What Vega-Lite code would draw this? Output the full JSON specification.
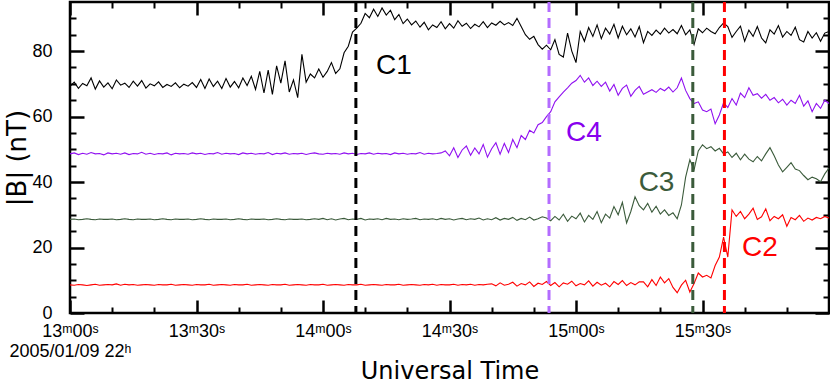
{
"$schema": "https://vega.github.io/schema/vega-lite/v6.json",
"width": 759, "height": 311,
"autosize": {"type": "none"},
"padding": {"left": 70, "top": 2, "right": 1, "bottom": 66},
"background": "white",
"config": {
 "view": {"stroke": "#000", "strokeWidth": 2.5},
 "axis": {"grid": false, "domain": false, "labelFont": "Liberation Sans, DejaVu Sans", "titleFont": "DejaVu Sans", "labelColor": "#000", "titleColor": "#000", "tickColor": "#000", "labelFontSize": 18, "titleFontWeight": "normal"}
},
"data": {"values": [
{"t":0,"c1":69.2,"c2":8.6,"c3":28.6,"c4":48.6},
{"t":1,"c1":70.5,"c2":8.5,"c3":28.7,"c4":48.9},
{"t":2,"c1":68.6,"c2":8.7,"c3":28.5,"c4":48.4},
{"t":3,"c1":70.1,"c2":8.6,"c3":28.6,"c4":48.8},
{"t":4,"c1":69.4,"c2":8.4,"c3":28.8,"c4":48.5},
{"t":5,"c1":71.8,"c2":8.6,"c3":28.6,"c4":49.0},
{"t":6,"c1":68.4,"c2":8.8,"c3":28.5,"c4":48.6},
{"t":7,"c1":70.9,"c2":8.5,"c3":28.7,"c4":48.7},
{"t":8,"c1":69.0,"c2":8.6,"c3":28.6,"c4":48.3},
{"t":9,"c1":70.3,"c2":8.7,"c3":28.6,"c4":48.9},
{"t":10,"c1":68.5,"c2":8.6,"c3":28.7,"c4":48.6},
{"t":11,"c1":71.2,"c2":8.9,"c3":28.5,"c4":48.8},
{"t":12,"c1":69.6,"c2":8.5,"c3":28.6,"c4":48.5},
{"t":13,"c1":70.2,"c2":8.8,"c3":28.8,"c4":48.9},
{"t":14,"c1":68.9,"c2":8.6,"c3":28.6,"c4":48.4},
{"t":15,"c1":70.8,"c2":8.7,"c3":28.5,"c4":48.7},
{"t":16,"c1":69.3,"c2":8.5,"c3":28.7,"c4":48.6},
{"t":17,"c1":71.0,"c2":8.6,"c3":28.6,"c4":49.1},
{"t":18,"c1":68.7,"c2":8.7,"c3":28.6,"c4":48.5},
{"t":19,"c1":70.0,"c2":8.6,"c3":28.7,"c4":48.8},
{"t":20,"c1":69.4,"c2":8.5,"c3":28.5,"c4":48.4},
{"t":21,"c1":70.6,"c2":8.7,"c3":28.6,"c4":48.7},
{"t":22,"c1":68.9,"c2":8.6,"c3":28.8,"c4":48.6},
{"t":23,"c1":69.8,"c2":8.6,"c3":28.6,"c4":48.9},
{"t":24,"c1":69.2,"c2":8.8,"c3":28.5,"c4":48.3},
{"t":25,"c1":70.3,"c2":8.5,"c3":28.7,"c4":48.8},
{"t":26,"c1":68.8,"c2":8.6,"c3":28.6,"c4":48.6},
{"t":27,"c1":69.9,"c2":8.7,"c3":28.6,"c4":48.7},
{"t":28,"c1":69.3,"c2":8.6,"c3":28.7,"c4":48.5},
{"t":29,"c1":70.4,"c2":8.5,"c3":28.5,"c4":48.9},
{"t":30,"c1":68.9,"c2":8.7,"c3":28.6,"c4":48.6},
{"t":31,"c1":71.3,"c2":8.6,"c3":28.8,"c4":48.8},
{"t":32,"c1":68.6,"c2":8.6,"c3":28.6,"c4":48.4},
{"t":33,"c1":71.5,"c2":8.8,"c3":28.5,"c4":48.7},
{"t":34,"c1":69.2,"c2":8.5,"c3":28.7,"c4":48.6},
{"t":35,"c1":70.8,"c2":8.6,"c3":28.6,"c4":49.0},
{"t":36,"c1":68.6,"c2":8.7,"c3":28.6,"c4":48.5},
{"t":37,"c1":71.6,"c2":8.6,"c3":28.7,"c4":48.8},
{"t":38,"c1":69.0,"c2":8.5,"c3":28.5,"c4":48.6},
{"t":39,"c1":70.7,"c2":8.7,"c3":28.6,"c4":48.7},
{"t":40,"c1":68.8,"c2":8.6,"c3":28.8,"c4":48.4},
{"t":41,"c1":71.8,"c2":8.6,"c3":28.6,"c4":48.9},
{"t":42,"c1":69.5,"c2":8.8,"c3":28.5,"c4":48.6},
{"t":43,"c1":72.3,"c2":8.5,"c3":28.7,"c4":48.8},
{"t":44,"c1":68.3,"c2":8.6,"c3":28.6,"c4":48.5},
{"t":45,"c1":73.8,"c2":8.7,"c3":28.6,"c4":48.7},
{"t":46,"c1":67.2,"c2":8.6,"c3":28.7,"c4":48.6},
{"t":47,"c1":74.2,"c2":8.5,"c3":28.5,"c4":49.0},
{"t":48,"c1":66.8,"c2":8.7,"c3":28.6,"c4":48.4},
{"t":49,"c1":75.5,"c2":8.6,"c3":28.8,"c4":48.8},
{"t":50,"c1":70.2,"c2":8.6,"c3":28.6,"c4":48.6},
{"t":51,"c1":77.0,"c2":8.8,"c3":28.5,"c4":48.9},
{"t":52,"c1":67.5,"c2":8.5,"c3":28.7,"c4":48.5},
{"t":53,"c1":71.2,"c2":8.6,"c3":28.6,"c4":48.7},
{"t":54,"c1":65.8,"c2":8.7,"c3":28.6,"c4":48.6},
{"t":55,"c1":79.0,"c2":8.6,"c3":28.7,"c4":48.8},
{"t":56,"c1":70.5,"c2":8.5,"c3":28.5,"c4":48.4},
{"t":57,"c1":73.0,"c2":8.7,"c3":28.6,"c4":48.7},
{"t":58,"c1":71.8,"c2":8.6,"c3":28.8,"c4":48.9},
{"t":59,"c1":74.5,"c2":8.6,"c3":28.6,"c4":48.6},
{"t":60,"c1":72.0,"c2":8.8,"c3":28.9,"c4":48.5},
{"t":61,"c1":73.8,"c2":8.5,"c3":28.5,"c4":48.8},
{"t":62,"c1":76.5,"c2":8.6,"c3":28.8,"c4":48.6},
{"t":63,"c1":73.2,"c2":8.7,"c3":28.4,"c4":48.7},
{"t":64,"c1":74.6,"c2":8.6,"c3":28.7,"c4":48.5},
{"t":65,"c1":79.5,"c2":8.5,"c3":28.9,"c4":48.9},
{"t":66,"c1":81.5,"c2":8.7,"c3":28.5,"c4":48.6},
{"t":67,"c1":85.8,"c2":8.6,"c3":28.7,"c4":48.8},
{"t":68,"c1":87.0,"c2":8.6,"c3":28.6,"c4":48.4},
{"t":69,"c1":88.5,"c2":8.8,"c3":28.9,"c4":48.7},
{"t":70,"c1":91.5,"c2":8.5,"c3":28.4,"c4":48.6},
{"t":71,"c1":90.2,"c2":8.6,"c3":28.7,"c4":48.9},
{"t":72,"c1":92.8,"c2":8.7,"c3":28.6,"c4":48.5},
{"t":73,"c1":90.6,"c2":8.6,"c3":28.8,"c4":48.8},
{"t":74,"c1":93.2,"c2":8.5,"c3":28.5,"c4":48.6},
{"t":75,"c1":91.0,"c2":8.7,"c3":28.9,"c4":48.7},
{"t":76,"c1":92.5,"c2":8.6,"c3":28.6,"c4":48.4},
{"t":77,"c1":89.6,"c2":8.6,"c3":28.7,"c4":48.9},
{"t":78,"c1":91.2,"c2":8.8,"c3":28.5,"c4":48.6},
{"t":79,"c1":88.4,"c2":8.5,"c3":28.8,"c4":48.8},
{"t":80,"c1":89.8,"c2":8.6,"c3":28.6,"c4":48.5},
{"t":81,"c1":88.0,"c2":8.7,"c3":28.7,"c4":48.7},
{"t":82,"c1":89.2,"c2":8.6,"c3":28.9,"c4":48.6},
{"t":83,"c1":87.3,"c2":8.5,"c3":28.5,"c4":49.0},
{"t":84,"c1":88.8,"c2":8.7,"c3":28.7,"c4":48.5},
{"t":85,"c1":86.5,"c2":8.6,"c3":28.6,"c4":48.8},
{"t":86,"c1":88.0,"c2":8.8,"c3":28.8,"c4":48.6},
{"t":87,"c1":87.2,"c2":8.5,"c3":28.5,"c4":48.7},
{"t":88,"c1":89.0,"c2":8.7,"c3":28.9,"c4":48.9},
{"t":89,"c1":86.8,"c2":8.6,"c3":28.6,"c4":49.5},
{"t":90,"c1":88.4,"c2":8.6,"c3":28.8,"c4":48.0},
{"t":91,"c1":87.0,"c2":8.8,"c3":28.4,"c4":50.5},
{"t":92,"c1":89.3,"c2":8.5,"c3":28.7,"c4":47.5},
{"t":93,"c1":87.6,"c2":8.7,"c3":28.9,"c4":49.8},
{"t":94,"c1":88.5,"c2":8.6,"c3":28.5,"c4":51.0},
{"t":95,"c1":86.9,"c2":8.8,"c3":28.8,"c4":48.2},
{"t":96,"c1":88.2,"c2":8.5,"c3":28.6,"c4":50.4},
{"t":97,"c1":87.4,"c2":8.7,"c3":29.0,"c4":48.6},
{"t":98,"c1":89.0,"c2":8.6,"c3":28.4,"c4":51.5},
{"t":99,"c1":87.2,"c2":8.8,"c3":28.8,"c4":47.6},
{"t":100,"c1":88.6,"c2":8.9,"c3":28.5,"c4":50.2},
{"t":101,"c1":87.9,"c2":8.3,"c3":29.1,"c4":52.0},
{"t":102,"c1":89.1,"c2":9.2,"c3":28.4,"c4":48.5},
{"t":103,"c1":88.0,"c2":8.5,"c3":28.9,"c4":51.8},
{"t":104,"c1":88.7,"c2":8.8,"c3":28.6,"c4":49.0},
{"t":105,"c1":87.8,"c2":9.4,"c3":29.2,"c4":53.0},
{"t":106,"c1":90.0,"c2":8.2,"c3":28.3,"c4":50.5},
{"t":107,"c1":87.5,"c2":9.0,"c3":28.9,"c4":54.2},
{"t":108,"c1":85.0,"c2":8.6,"c3":28.5,"c4":53.0},
{"t":109,"c1":83.6,"c2":9.5,"c3":29.3,"c4":55.8},
{"t":110,"c1":84.5,"c2":8.1,"c3":28.4,"c4":55.0},
{"t":111,"c1":82.0,"c2":9.1,"c3":28.8,"c4":57.5},
{"t":112,"c1":80.6,"c2":8.7,"c3":29.4,"c4":58.2},
{"t":113,"c1":81.8,"c2":9.6,"c3":29.0,"c4":60.0},
{"t":114,"c1":80.4,"c2":8.4,"c3":28.2,"c4":61.5},
{"t":115,"c1":83.5,"c2":9.3,"c3":29.5,"c4":64.5},
{"t":116,"c1":79.0,"c2":8.0,"c3":28.4,"c4":66.0},
{"t":117,"c1":78.2,"c2":9.2,"c3":30.2,"c4":67.5},
{"t":118,"c1":85.5,"c2":8.8,"c3":28.0,"c4":68.8},
{"t":119,"c1":80.0,"c2":9.7,"c3":29.6,"c4":70.2},
{"t":120,"c1":76.5,"c2":8.3,"c3":28.8,"c4":71.0},
{"t":121,"c1":86.0,"c2":9.0,"c3":30.5,"c4":72.6},
{"t":122,"c1":83.0,"c2":8.6,"c3":27.8,"c4":70.5},
{"t":123,"c1":87.2,"c2":9.8,"c3":29.8,"c4":71.8},
{"t":124,"c1":84.5,"c2":8.2,"c3":28.6,"c4":69.5},
{"t":125,"c1":88.0,"c2":9.4,"c3":31.0,"c4":70.8},
{"t":126,"c1":83.8,"c2":8.5,"c3":27.6,"c4":69.2},
{"t":127,"c1":87.0,"c2":9.1,"c3":30.2,"c4":70.5},
{"t":128,"c1":85.2,"c2":8.0,"c3":29.0,"c4":67.8},
{"t":129,"c1":88.2,"c2":9.6,"c3":32.5,"c4":69.8},
{"t":130,"c1":84.0,"c2":8.7,"c3":30.0,"c4":66.5},
{"t":131,"c1":87.6,"c2":9.9,"c3":33.8,"c4":68.6},
{"t":132,"c1":85.0,"c2":8.4,"c3":27.5,"c4":69.6},
{"t":133,"c1":86.8,"c2":9.3,"c3":31.0,"c4":66.2},
{"t":134,"c1":84.3,"c2":8.6,"c3":35.5,"c4":68.0},
{"t":135,"c1":87.5,"c2":9.5,"c3":32.8,"c4":69.2},
{"t":136,"c1":82.6,"c2":9.5,"c3":31.5,"c4":66.8},
{"t":137,"c1":86.0,"c2":8.0,"c3":33.5,"c4":67.5},
{"t":138,"c1":84.8,"c2":10.2,"c3":30.8,"c4":68.2},
{"t":139,"c1":86.4,"c2":8.4,"c3":32.6,"c4":67.4},
{"t":140,"c1":85.2,"c2":11.0,"c3":30.2,"c4":68.6},
{"t":141,"c1":87.0,"c2":9.2,"c3":31.5,"c4":67.9},
{"t":142,"c1":85.5,"c2":10.5,"c3":29.8,"c4":69.0},
{"t":143,"c1":86.6,"c2":7.8,"c3":30.6,"c4":67.5},
{"t":144,"c1":85.3,"c2":6.2,"c3":28.8,"c4":68.8},
{"t":145,"c1":87.8,"c2":8.5,"c3":33.0,"c4":71.8},
{"t":146,"c1":85.0,"c2":10.0,"c3":41.5,"c4":68.0},
{"t":147,"c1":86.5,"c2":6.4,"c3":46.8,"c4":65.5},
{"t":148,"c1":82.0,"c2":9.0,"c3":43.7,"c4":64.0},
{"t":149,"c1":86.8,"c2":12.2,"c3":49.5,"c4":64.5},
{"t":150,"c1":85.6,"c2":11.0,"c3":51.4,"c4":62.0},
{"t":151,"c1":87.0,"c2":11.5,"c3":50.2,"c4":61.5},
{"t":152,"c1":86.0,"c2":10.7,"c3":50.8,"c4":62.3},
{"t":153,"c1":85.3,"c2":14.5,"c3":49.5,"c4":57.8},
{"t":154,"c1":87.2,"c2":17.1,"c3":50.3,"c4":60.5},
{"t":155,"c1":88.6,"c2":23.2,"c3":48.6,"c4":64.2},
{"t":156,"c1":87.5,"c2":17.1,"c3":49.2,"c4":62.8},
{"t":157,"c1":84.2,"c2":31.5,"c3":47.5,"c4":65.5},
{"t":158,"c1":86.0,"c2":29.5,"c3":48.8,"c4":63.5},
{"t":159,"c1":87.6,"c2":31.0,"c3":46.8,"c4":67.2},
{"t":160,"c1":83.0,"c2":28.8,"c3":48.5,"c4":65.8},
{"t":161,"c1":86.4,"c2":30.2,"c3":47.0,"c4":68.8},
{"t":162,"c1":84.5,"c2":32.0,"c3":46.2,"c4":66.5},
{"t":163,"c1":87.5,"c2":28.6,"c3":47.8,"c4":67.0},
{"t":164,"c1":84.0,"c2":29.4,"c3":46.5,"c4":65.6},
{"t":165,"c1":82.5,"c2":31.8,"c3":48.6,"c4":66.8},
{"t":166,"c1":86.5,"c2":28.2,"c3":50.5,"c4":65.0},
{"t":167,"c1":85.2,"c2":29.5,"c3":48.0,"c4":65.8},
{"t":168,"c1":87.8,"c2":28.8,"c3":45.2,"c4":64.2},
{"t":169,"c1":84.3,"c2":30.0,"c3":43.1,"c4":65.3},
{"t":170,"c1":86.0,"c2":26.5,"c3":44.5,"c4":63.5},
{"t":171,"c1":84.8,"c2":29.2,"c3":45.9,"c4":65.0},
{"t":172,"c1":87.3,"c2":28.5,"c3":44.0,"c4":64.0},
{"t":173,"c1":83.5,"c2":29.8,"c3":43.5,"c4":66.5},
{"t":174,"c1":82.8,"c2":28.0,"c3":42.0,"c4":63.2},
{"t":175,"c1":86.0,"c2":29.0,"c3":40.7,"c4":64.8},
{"t":176,"c1":84.0,"c2":28.4,"c3":41.5,"c4":61.5},
{"t":177,"c1":85.6,"c2":29.2,"c3":41.0,"c4":64.0},
{"t":178,"c1":83.0,"c2":28.8,"c3":40.1,"c4":62.5},
{"t":179,"c1":85.5,"c2":29.5,"c3":42.5,"c4":65.0},
{"t":180,"c1":86.0,"c2":29.0,"c3":44.3,"c4":64.0}
]},
"resolve": {"axis": {"x": "independent", "y": "independent"}},
"layer": [
 {"mark": {"type": "line", "color": "#000000", "strokeWidth": 1.1},
  "encoding": {
   "x": {"field": "t", "type": "quantitative", "scale": {"domain": [0, 180], "nice": false, "zero": false},
    "axis": {"orient": "bottom", "values": [0, 30, 60, 90, 120, 150], "ticks": false, "labelPadding": 9, "labelFlush": false, "labelOverlap": false, "labelLineHeight": 20,
     "labelExpr": "datum.value == 0 ? ['13ᵐ00ˢ', '2005/01/09 22ʰ'] : (floor(13 + datum.value / 60) + 'ᵐ' + (datum.value % 60 == 0 ? '00' : '30') + 'ˢ')",
     "title": "Universal Time", "titleFontSize": 24, "titlePadding": -1}},
   "y": {"field": "c1", "type": "quantitative", "scale": {"domain": [0, 95], "nice": false},
    "axis": {"orient": "left", "values": [0, 20, 40, 60, 80], "ticks": false, "labelPadding": 18, "title": "|B| (nT)", "titleFontSize": 26, "titlePadding": 1}}
  }},
 {"mark": {"type": "line", "color": "#ff0000", "strokeWidth": 1.1},
  "encoding": {
   "x": {"field": "t", "type": "quantitative", "scale": {"domain": [0, 180], "nice": false, "zero": false},
    "axis": {"orient": "bottom", "values": [0, 30, 60, 90, 120, 150, 180], "labels": false, "offset": -13, "tickSize": 13, "tickWidth": 2.5, "title": "t", "titlePadding": 300}},
   "y": {"field": "c2", "type": "quantitative", "scale": {"domain": [0, 95], "nice": false},
    "axis": {"orient": "left", "values": [0, 20, 40, 60, 80], "labels": false, "offset": -14, "tickSize": 14, "tickWidth": 2.5, "title": "t", "titlePadding": 300}}
  }},
 {"mark": {"type": "line", "color": "#3b5b3b", "strokeWidth": 1.1},
  "encoding": {
   "x": {"field": "t", "type": "quantitative", "scale": {"domain": [0, 180], "nice": false, "zero": false},
    "axis": {"orient": "bottom", "values": [10, 20, 40, 50, 70, 80, 100, 110, 130, 140, 160, 170], "labels": false, "offset": -6, "tickSize": 6, "tickWidth": 2, "title": "t", "titlePadding": 300}},
   "y": {"field": "c3", "type": "quantitative", "scale": {"domain": [0, 95], "nice": false},
    "axis": {"orient": "left", "values": [5, 10, 15, 25, 30, 35, 45, 50, 55, 65, 70, 75, 85, 90], "labels": false, "offset": -6, "tickSize": 6, "tickWidth": 2, "title": "t", "titlePadding": 300}}
  }},
 {"mark": {"type": "line", "color": "#9010f0", "strokeWidth": 1.1},
  "encoding": {
   "x": {"field": "t", "type": "quantitative", "scale": {"domain": [0, 180], "nice": false, "zero": false},
    "axis": {"orient": "top", "values": [0, 30, 60, 90, 120, 150, 180], "labels": false, "offset": -13, "tickSize": 13, "tickWidth": 2.5, "title": "t", "titlePadding": 300}},
   "y": {"field": "c4", "type": "quantitative", "scale": {"domain": [0, 95], "nice": false},
    "axis": {"orient": "right", "values": [0, 20, 40, 60, 80], "labels": false, "offset": -14, "tickSize": 14, "tickWidth": 2.5, "title": "t", "titlePadding": 300}}
  }},
 {"data": {"values": [
   {"t": 67.8, "s": "C1"}, {"t": 113.6, "s": "C4"}, {"t": 147.7, "s": "C3"}, {"t": 155.2, "s": "C2"}
  ]},
  "mark": {"type": "rule", "strokeWidth": 3, "strokeDash": [10, 6]},
  "encoding": {
   "x": {"field": "t", "type": "quantitative", "scale": {"domain": [0, 180], "nice": false, "zero": false}, "axis": null},
   "stroke": {"field": "s", "type": "nominal", "scale": {"domain": ["C1", "C2", "C3", "C4"], "range": ["#000000", "#ff0000", "#3b5b3b", "#b36cff"]}, "legend": null}
  }},
 {"data": {"values": [
   {"t": 76.8, "b": 75.4, "s": "C1"}, {"t": 121.9, "b": 54.9, "s": "C4"}, {"t": 139.1, "b": 39.8, "s": "C3"}, {"t": 163.6, "b": 19.8, "s": "C2"}
  ]},
  "mark": {"type": "text", "font": "Liberation Sans", "fontSize": 28, "align": "center", "baseline": "middle"},
  "encoding": {
   "x": {"field": "t", "type": "quantitative", "scale": {"domain": [0, 180], "nice": false, "zero": false},
    "axis": {"orient": "top", "values": [10, 20, 40, 50, 70, 80, 100, 110, 130, 140, 160, 170], "labels": false, "offset": -6, "tickSize": 6, "tickWidth": 2, "title": "t", "titlePadding": 300}},
   "y": {"field": "b", "type": "quantitative", "scale": {"domain": [0, 95], "nice": false},
    "axis": {"orient": "right", "values": [5, 10, 15, 25, 30, 35, 45, 50, 55, 65, 70, 75, 85, 90], "labels": false, "offset": -6, "tickSize": 6, "tickWidth": 2, "title": "t", "titlePadding": 300}},
   "text": {"field": "s", "type": "nominal"},
   "fill": {"field": "s", "type": "nominal", "scale": {"domain": ["C1", "C2", "C3", "C4"], "range": ["#000000", "#ff0000", "#3b5b3b", "#8800ee"]}, "legend": null}
  }}
]
}
